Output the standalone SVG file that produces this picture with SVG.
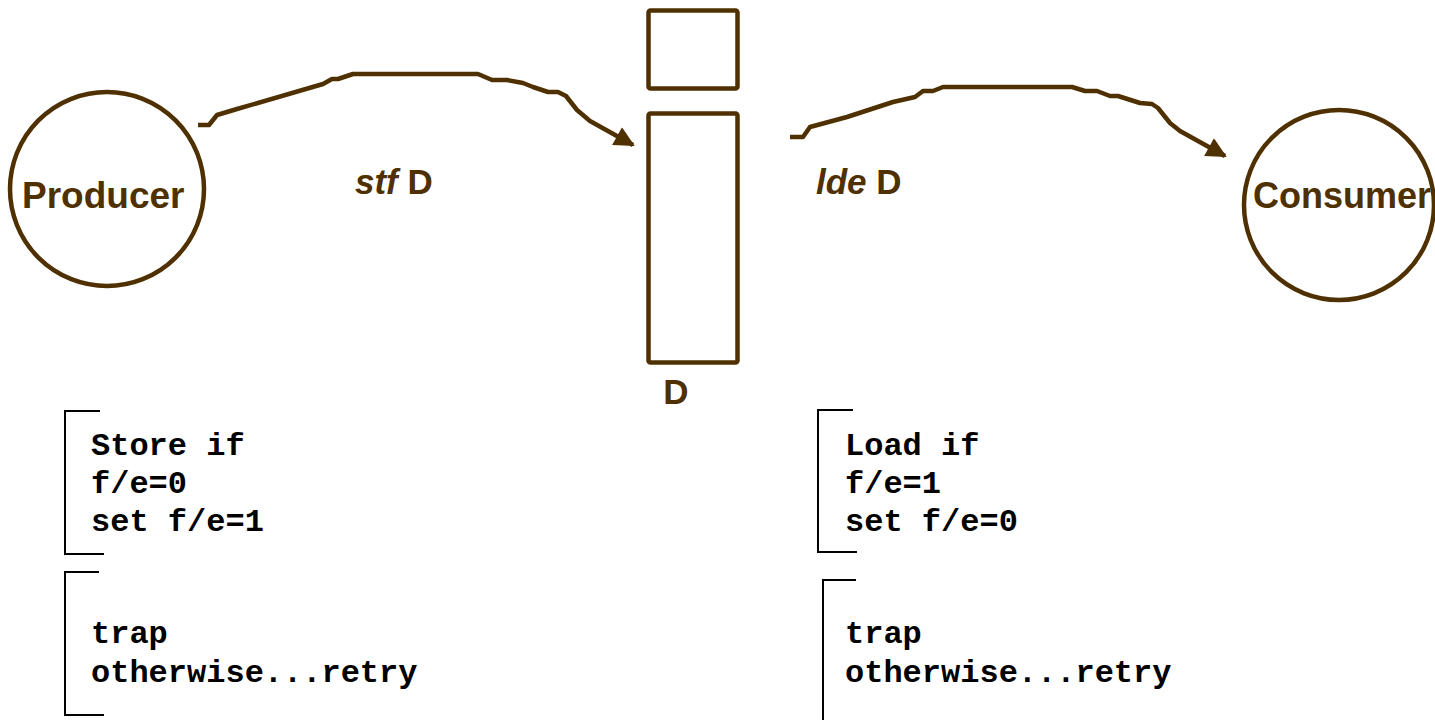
<svg xmlns="http://www.w3.org/2000/svg" width="1435" height="720" viewBox="0 0 1435 720">
  <style>
    .shape { fill: none; stroke: #4f3000; stroke-width: 4.5; stroke-linejoin: round; }
    .wire { fill: none; stroke: #4f3000; stroke-width: 4.5; stroke-linejoin: round; }
    .bracket { fill: none; stroke: #000; stroke-width: 2; }
    .label { font-family: "Liberation Sans", Arial, sans-serif; font-weight: bold; fill: #4f3000; }
    .code { font-family: "Liberation Mono", "Courier New", monospace; font-weight: bold; font-size: 32px; fill: #000; }
  </style>
  <defs>
    <marker id="head" viewBox="0 0 10 10" refX="9" refY="5" markerWidth="5" markerHeight="4.5" orient="auto" markerUnits="strokeWidth">
      <path d="M0,0 L10,5 L0,10 z" fill="#4f3000"/>
    </marker>
  </defs>

  <rect width="1435" height="720" fill="#fff"/>

  <g id="producer">
    <circle class="shape" cx="107" cy="189" r="97"/>
    <text class="label" x="22" y="208" font-size="37">Producer</text>
  </g>

  <g id="consumer">
    <circle class="shape" cx="1339" cy="205" r="95"/>
    <text class="label" x="1253" y="208" font-size="36">Consumer</text>
  </g>

  <g id="buffer">
    <rect class="shape" x="648.5" y="10.5" width="89" height="78" rx="2"/>
    <rect class="shape" x="648.5" y="113.5" width="89" height="249" rx="2"/>
    <text class="label" x="676" y="404" font-size="35" text-anchor="middle">D</text>
  </g>

  <g id="connectors">
    <path class="wire" marker-end="url(#head)" d="M198,125 L209,125 L217,115 L237,109 L323,84 L332,79 L338,79 L353,74 L478,74 L492,80 L507,80 L523,83 L533,87 L548,92 L558,92 L566,96 L577,110 L590,121 L633,145"/>
    <path class="wire" marker-end="url(#head)" d="M790,137 L803,137 L810,127 L847,117 L893,102 L915,97 L923,91 L933,91 L943,87 L1072,87 L1085,91 L1097,91 L1110,96 L1118,96 L1140,103 L1152,104 L1158,108 L1170,123 L1180,131 L1225,156"/>
    <text class="label" x="355" y="194" font-size="35"><tspan font-style="italic">stf</tspan> D</text>
    <text class="label" x="816" y="194" font-size="35"><tspan font-style="italic">lde</tspan> D</text>
  </g>

  <g id="store-rule">
    <path class="bracket" d="M100,411 H65 V554 H104"/>
    <text class="code" x="91" y="455">Store if</text>
    <text class="code" x="91" y="493">f/e=0</text>
    <text class="code" x="91" y="531">set f/e=1</text>
  </g>

  <g id="store-trap">
    <path class="bracket" d="M99,572 H65 V715 H104"/>
    <text class="code" x="91" y="643">trap</text>
    <text class="code" x="91" y="682">otherwise...retry</text>
  </g>

  <g id="load-rule">
    <path class="bracket" d="M853,410 H818 V552 H857"/>
    <text class="code" x="845" y="455">Load if</text>
    <text class="code" x="845" y="493">f/e=1</text>
    <text class="code" x="845" y="531">set f/e=0</text>
  </g>

  <g id="load-trap">
    <path class="bracket" d="M856,580 H823 V720"/>
    <text class="code" x="845" y="643">trap</text>
    <text class="code" x="845" y="682">otherwise...retry</text>
  </g>
</svg>
